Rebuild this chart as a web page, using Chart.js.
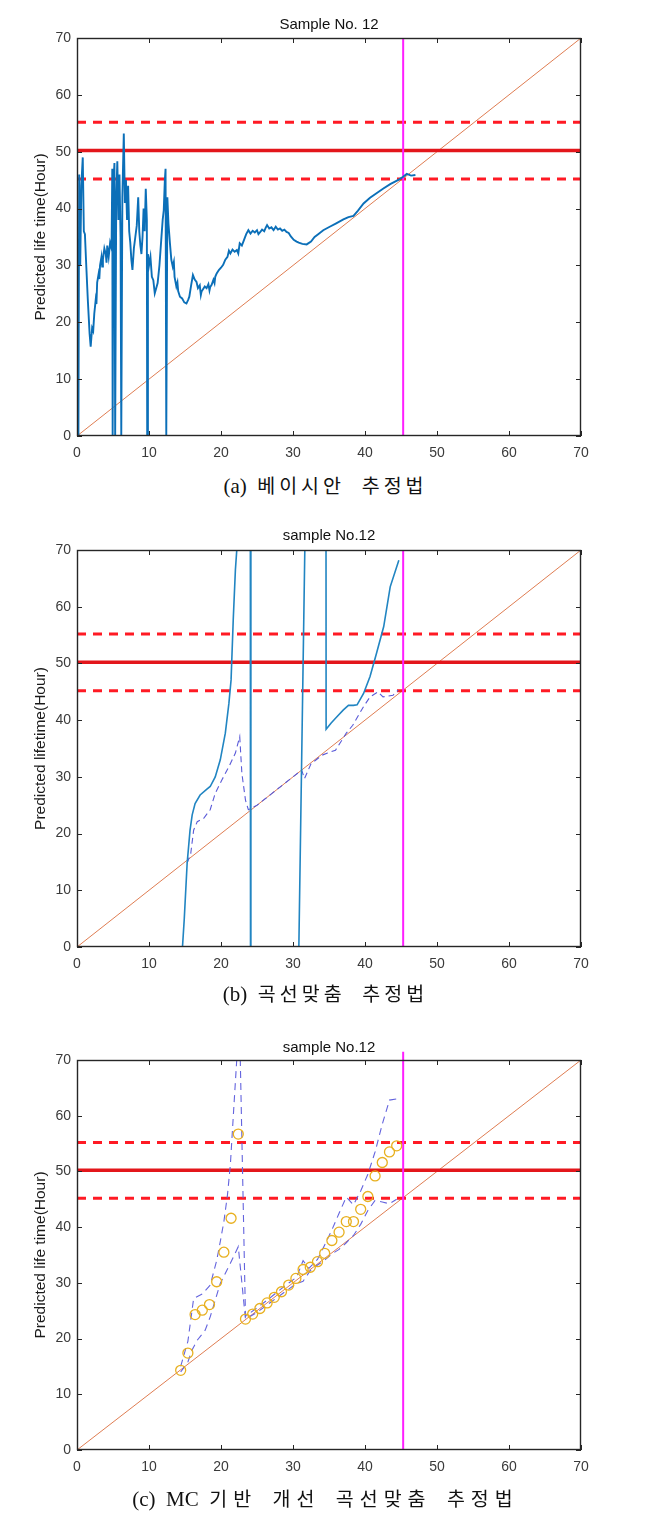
<!DOCTYPE html>
<html>
<head>
<meta charset="utf-8">
<script src="https://cdn.jsdelivr.net/npm/chart.js@4.4.0/dist/chart.umd.min.js"></script>
<style>
  body { margin: 0; background: #fff; width: 651px; height: 1532px; position: relative; overflow: hidden; }
  .panel { position: absolute; left: 0; width: 651px; }
  .panel canvas { display: block; }
  .caption {
    position: absolute; left: 0; width: 651px; text-align: center; white-space: pre;
    font-family: 'Liberation Serif', 'Noto Sans CJK KR', serif;
    font-size: 21px; line-height: 24px; color: #111;
  }
  .caption .ko { font-family: 'Noto Sans CJK KR', sans-serif; font-size: 19.5px; letter-spacing: 4px; }
  .caption.wide .ko { letter-spacing: 6px; word-spacing: 5px; }
</style>
</head>
<body>

<div class="panel" style="top:0;height:470px"><canvas id="chartA" width="651" height="470"></canvas></div>
<div class="caption" style="top:473px">(a)  <span class="ko">베이시안  추정법</span></div>

<div class="panel" style="top:510px;height:470px"><canvas id="chartB" width="651" height="470"></canvas></div>
<div class="caption" style="top:981px">(b)  <span class="ko">곡선맞춤  추정법</span></div>

<div class="panel" style="top:1020px;height:470px"><canvas id="chartC" width="651" height="470"></canvas></div>
<div class="caption wide" style="top:1486px">(c)  MC  <span class="ko">기반 개선 곡선맞춤 추정법</span></div>

<script>
// --- Data ---

const axisTicks = [0, 10, 20, 30, 40, 50, 60, 70];
const thresholdLevels = [45.2, 50.2, 55.2];   // lower dashed, solid, upper dashed
const failureTime = 45.3;                      // magenta vertical line
const diagonal = [[0, 0], [70, 70]];           // ideal prediction y = x

// (a) Bayesian estimation: predicted life time vs time
const bayesPrediction = [
  [0, 0], [0.2, 0], [0.3, 46], [0.45, 30], [0.6, 44], [0.8, 49], [0.95, 36], [1.1, 35.5],
  [1.25, 31], [1.5, 24], [1.75, 18], [1.9, 15.7], [2.1, 19], [2.25, 18.5], [2.4, 21.5], [2.6, 24],
  [2.7, 23.2], [2.8, 27], [3.0, 28.5], [3.1, 27.6], [3.2, 30], [3.4, 31.5], [3.5, 29.8], [3.6, 31],
  [3.8, 33], [4.0, 32], [4.1, 30.5], [4.2, 33.5], [4.4, 31.5], [4.6, 34], [4.8, 33], [4.9, 47],
  [4.95, 0], [5.05, 44], [5.2, 48], [5.3, 0], [5.45, 42], [5.6, 48.3], [5.75, 38], [5.9, 46],
  [6.05, 35], [6.15, 0], [6.3, 42], [6.5, 53.2], [6.65, 41], [6.8, 45], [6.95, 38], [7.1, 44],
  [7.25, 36], [7.4, 34], [7.55, 31], [7.7, 29.2], [7.9, 33], [8.1, 35], [8.3, 37], [8.5, 42],
  [8.65, 36], [8.8, 33.5], [8.95, 32], [9.1, 35], [9.25, 40], [9.4, 36], [9.55, 43.5], [9.7, 38],
  [9.75, 0], [9.85, 32], [10.0, 30], [10.2, 31.5], [10.4, 28], [10.6, 27.4], [10.8, 25.1],
  [11.0, 26], [11.2, 26.9], [11.45, 30], [11.7, 34.5], [11.9, 38], [12.05, 39.7], [12.2, 45],
  [12.3, 47], [12.4, 0], [12.55, 42], [12.7, 37.4], [12.9, 34], [13.1, 31], [13.3, 29.8],
  [13.45, 30.6], [13.55, 28], [13.8, 26.3], [13.95, 27], [14.05, 25.5], [14.3, 24.5], [14.6, 24.2],
  [14.9, 23.5], [15.2, 23.3], [15.45, 24], [15.6, 24.5], [15.85, 26.5], [16.1, 28.3], [16.35, 27.5],
  [16.6, 27.1], [16.8, 26], [17.05, 26.5], [17.2, 24.8], [17.3, 25.4], [17.5, 25.8], [17.75, 26.3],
  [18.0, 26], [18.25, 26.7], [18.4, 25.6], [18.5, 26.2], [18.7, 26.6], [18.95, 27.5], [19.1, 26.9],
  [19.2, 28], [19.4, 28.6], [19.7, 29.2], [20.0, 29.6], [20.3, 30.1], [20.6, 31], [20.9, 31.5],
  [21.1, 32.6], [21.3, 32.1], [21.6, 32.8], [21.9, 32.4], [22.2, 32.7], [22.4, 32.1], [22.6, 33.9],
  [22.9, 33.5], [23.2, 34.5], [23.5, 35.5], [23.8, 36.2], [24.1, 35.6], [24.4, 36.1], [24.7, 35.8],
  [25.0, 36.2], [25.2, 35.5], [25.4, 35.8], [25.7, 36.3], [26.0, 36], [26.2, 36.6], [26.4, 37.1],
  [26.7, 36.5], [27.0, 36.7], [27.3, 36.2], [27.6, 36.8], [27.9, 36.3], [28.2, 36.5], [28.5, 36.1],
  [28.8, 36.3], [29.1, 35.9], [29.4, 35.7], [29.7, 35.1], [30.1, 34.5], [30.5, 34.2], [30.8, 34],
  [31.3, 33.8], [31.9, 33.7], [32.5, 34.2], [33.0, 35], [33.5, 35.5], [34.2, 36.2], [35.1, 36.8],
  [36.0, 37.4], [37.0, 38.1], [37.7, 38.5], [38.4, 38.7], [39.0, 39.6], [39.8, 40.9], [40.7, 41.9],
  [41.6, 42.7], [42.5, 43.5], [43.5, 44.3], [44.7, 45.1], [45.3, 45.6], [45.8, 46.1], [46.4, 45.8],
  [47.0, 45.9],
];

// (b) curve fitting: fitted prediction (solid) and its running estimate (dashed)
const fitPrediction = [
  [14.5, -3], [14.9, 5], [15.3, 14.8], [15.7, 20.6], [16.0, 23.3], [16.4, 25.3], [17.1, 26.8],
  [18.0, 27.8], [18.5, 28.3], [19.2, 30], [19.9, 33], [20.6, 37.7], [21.1, 43], [21.4, 47.1],
  [21.7, 57.7], [22.0, 66.5], [22.3, 72], [22.6, 90], [24.05, 150], [24.15, -150], [30.8, -1],
  [31.7, 75], [32.0, 150], [34.55, 150], [34.6, 38.4], [35.3, 39.5], [36.1, 40.6], [37.0, 41.8],
  [37.7, 42.6], [38.4, 42.6], [38.9, 42.7], [39.8, 44.7], [40.7, 47.7], [41.6, 51.8], [42.6, 56.5],
  [43.5, 63.5], [44.7, 68.2],
];
const fitEstimate = [
  [15.3, 14.8], [15.8, 16.5], [16.2, 20.6], [16.7, 22.1], [17.6, 22.7], [18.5, 24.2], [19.2, 27.1],
  [20.1, 29.4], [21.1, 31.8], [22.0, 34.2], [22.6, 37.1], [22.9, 30.6], [23.4, 25.9], [23.8, 24.2],
  [25.0, 25.0], [27.0, 27.0], [29.0, 29.0], [31.2, 31.2], [31.6, 29.7], [32.5, 32.3], [34.0, 33.8],
  [34.8, 34.2], [35.9, 34.7], [37.4, 37.7], [38.3, 39.1], [39.8, 42.4], [40.7, 44.1], [41.8, 45.0],
  [42.5, 44.1], [43.9, 44.4], [44.6, 45.3],
];

// (c) MC-based improved curve fitting: median estimate (circles) and bounds (dashed)
const mcTimes = [
  14.4, 15.4, 16.4, 17.4, 18.4, 19.4, 20.4, 21.4, 22.4, 23.4, 24.4, 25.4, 26.4, 27.4, 28.4, 29.4,
  30.4, 31.4, 32.4, 33.4, 34.4, 35.4, 36.4, 37.4, 38.4, 39.4, 40.4, 41.4, 42.4, 43.4, 44.4,
];
const mcMedian = [
  14.3, 17.4, 24.3, 25.1, 26.1, 30.2, 35.5, 41.6, 56.7, 23.5, 24.4, 25.4, 26.4, 27.4, 28.4, 29.6,
  30.8, 32.4, 32.8, 33.8, 35.3, 37.6, 39.1, 41.0, 41.0, 43.2, 45.5, 49.2, 51.6, 53.5, 54.6,
];
const mcUpper = [
  [14.4, 15], [15.4, 19.5], [16.2, 27.2], [17.4, 28], [18.5, 29.6], [19.4, 34], [19.9, 37.4],
  [20.4, 41], [20.9, 45.8], [21.3, 51.2], [21.8, 61.9], [22.2, 70.3], [22.4, 90], [22.6, 75],
  [23.4, 24], [25.0, 25.5], [27.0, 27.5], [29.0, 29.6], [30.5, 31], [31.4, 34], [32.2, 32.6],
  [33.4, 34.2], [34.4, 36.8], [35.4, 39.5], [36.4, 42.5], [37.4, 45.4], [38.4, 44], [39.4, 46.5],
  [40.4, 49.5], [41.4, 53.5], [42.4, 58.5], [43.4, 62.8], [44.4, 63],
];
const mcLower = [
  [14.4, 14], [15.4, 15.8], [16.0, 18], [16.7, 19.7], [17.8, 21.5], [18.5, 23.9], [19.9, 29.9],
  [21.3, 33.5], [22.4, 36.5], [23.4, 23.5], [25.0, 24.7], [27.0, 26.6], [29.0, 28.5], [30.4, 29.8],
  [31.4, 30.3], [32.4, 32.2], [33.4, 33.2], [34.4, 34.1], [35.4, 35.2], [36.4, 36], [37.4, 37.2],
  [38.4, 38.5], [39.4, 40.5], [40.4, 43], [41.4, 44.8], [42.4, 44.5], [43.4, 44.2], [44.4, 45],
];
const magentaTopC = 71.5;   // the vertical line pokes above the box in (c)

// --- Helpers ---

const toPts = arr => arr.map(([x, y]) => ({ x, y }));

function lineSet(data, color, width, dash, extra) {
  return Object.assign({
    data: toPts(data),
    showLine: true,
    borderColor: color,
    backgroundColor: color,
    borderWidth: width,
    borderDash: dash || [],
    pointRadius: 0,
    pointHoverRadius: 0,
    tension: 0,
    fill: false,
  }, extra || {});
}

function guideLines(failTop) {
  return [
    lineSet([[failureTime, 0], [failureTime, failTop]], '#ff1fff', 2, null, { clip: false }),
    lineSet([[0, thresholdLevels[1]], [70, thresholdLevels[1]]], '#e3161b', 3.5),
    lineSet([[0, thresholdLevels[0]], [70, thresholdLevels[0]]], '#ff1a24', 3, [9, 7]),
    lineSet([[0, thresholdLevels[2]], [70, thresholdLevels[2]]], '#ff1a24', 3, [9, 7]),
    lineSet(diagonal, '#df7d52', 1),
  ];
}

// MATLAB-like box with inward ticks on all four sides, plus the panel title
const matlabBox = {
  id: 'matlabBox',
  afterDatasetsDraw(chart, args, opts) {
    const { ctx, chartArea: a, scales: { x, y } } = chart;
    ctx.save();
    ctx.strokeStyle = '#262626';
    ctx.lineWidth = 1;
    ctx.beginPath();
    x.ticks.forEach(t => {
      const px = Math.round(x.getPixelForValue(t.value)) + 0.5;
      ctx.moveTo(px, a.bottom); ctx.lineTo(px, a.bottom - 5);
      ctx.moveTo(px, a.top); ctx.lineTo(px, a.top + 5);
    });
    y.ticks.forEach(t => {
      const py = Math.round(y.getPixelForValue(t.value)) + 0.5;
      ctx.moveTo(a.left, py); ctx.lineTo(a.left + 5, py);
      ctx.moveTo(a.right, py); ctx.lineTo(a.right - 5, py);
    });
    ctx.stroke();
    ctx.lineWidth = 1.4;
    ctx.strokeRect(a.left + 0.5, a.top + 0.5, a.width - 1, a.height - 1);

    ctx.fillStyle = '#111';
    ctx.font = '15px "Liberation Sans", Arial, sans-serif';
    ctx.textAlign = 'center';
    ctx.textBaseline = 'middle';
    ctx.fillText(opts.title, (a.left + a.right) / 2, a.top + opts.titleOffset);
    ctx.restore();
  },
};

function makePanel(canvasId, title, titleOffset, yLabel, padTop, xHeight, datasets) {
  const tickFont = { family: "'Liberation Sans', Arial, sans-serif", size: 14 };
  return new Chart(document.getElementById(canvasId), {
    type: 'scatter',
    data: { datasets },
    options: {
      responsive: false,
      animation: false,
      events: [],
      layout: { padding: { top: padTop, right: 70, left: 0, bottom: 0 } },
      plugins: {
        legend: { display: false },
        tooltip: { enabled: false },
        matlabBox: { title, titleOffset },
      },
      scales: {
        x: {
          type: 'linear',
          min: 0,
          max: 70,
          afterBuildTicks: s => { s.ticks = axisTicks.map(v => ({ value: v })); },
          afterFit: s => { s.height = xHeight; },
          grid: { display: false, drawTicks: false },
          border: { display: false },
          ticks: { padding: 9, color: '#3a3a3a', font: tickFont, maxRotation: 0 },
        },
        y: {
          type: 'linear',
          min: 0,
          max: 70,
          afterBuildTicks: s => { s.ticks = axisTicks.map(v => ({ value: v })); },
          afterFit: s => { s.width = 77; },
          grid: { display: false, drawTicks: false },
          border: { display: false },
          ticks: { padding: 6, color: '#3a3a3a', font: tickFont },
          title: {
            display: true,
            text: yLabel,
            color: '#1a1a1a',
            font: { family: "'Liberation Sans', Arial, sans-serif", size: 15.5 },
            padding: { top: 31, bottom: 0 },
          },
        },
      },
    },
    plugins: [matlabBox],
  });
}

// --- Panels ---

makePanel('chartA', 'Sample No. 12', -13, 'Predicted life time(Hour)', 38, 34, [
  lineSet(bayesPrediction, '#0b6fb8', 1.9),
  ...guideLines(70),
]);

makePanel('chartB', 'sample No.12', -14, 'Predicted lifetime(Hour)', 40, 33, [
  lineSet(fitPrediction, '#2185c2', 1.6),
  lineSet(fitEstimate, '#5a5ad8', 1.1, [6, 4]),
  ...guideLines(70),
]);

makePanel('chartC', 'sample No.12', -12, 'Predicted life time(Hour)', 40, 40, [
  {
    data: mcTimes.map((t, i) => ({ x: t, y: mcMedian[i] })),
    showLine: false,
    pointStyle: 'circle',
    pointRadius: 5,
    pointHoverRadius: 5,
    pointBorderWidth: 1.3,
    pointBorderColor: '#e8b01f',
    pointBackgroundColor: 'rgba(0,0,0,0)',
  },
  lineSet(mcUpper, '#6464de', 1.1, [7, 5]),
  lineSet(mcLower, '#6464de', 1.1, [7, 5]),
  ...guideLines(magentaTopC),
]);
</script>
</body>
</html>
